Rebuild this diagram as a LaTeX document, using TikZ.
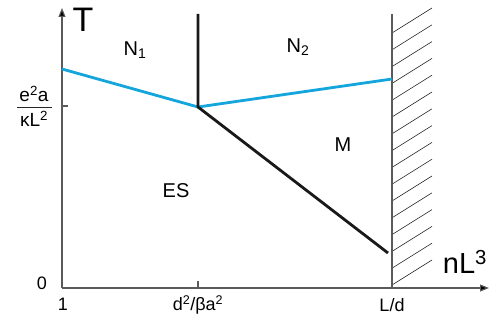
\documentclass[tikz,border=0pt]{standalone}
\usepackage{fontspec}
\setmainfont{Liberation Sans}
\usetikzlibrary{arrows.meta}
\definecolor{phaseblue}{RGB}{20,165,220}
\definecolor{axisgrey}{RGB}{90,90,90}
\begin{document}
\begin{tikzpicture}[x=1pt,y=-1pt,
  axisline/.style={draw=axisgrey,line width=1.1pt},
  axisarrow/.style={axisline,-{Triangle[length=9pt,width=7pt,fill=black]}},
  blueline/.style={draw=phaseblue,line width=2.8pt},
  blackline/.style={draw=black!90,line width=2.8pt},
  hatchline/.style={draw=black!85,line width=0.6pt},
  lbl/.style={inner sep=0pt,font=\fontsize{20}{22}\selectfont},
  ticklbl/.style={inner sep=0pt,font=\fontsize{18}{20}\selectfont}]
\useasboundingbox (0,0) rectangle (494,320);
% coordinates
\coordinate (O) at (62,288);
\coordinate (ytop) at (62,8);
\coordinate (xend) at (489,288);
\coordinate (wtop) at (392,14);
\coordinate (wbot) at (392,288);
\coordinate (bl) at (62,69);
\coordinate (tp) at (198,107);
\coordinate (br) at (392,79);
\coordinate (vtop) at (198,14);
\coordinate (mend) at (388,253);
\coordinate (yt1) at (62,106);
\coordinate (yt2) at (68,106);
\coordinate (xt1) at (198,288);
\coordinate (xt2) at (198,281);
\coordinate (fl) at (17,107);
\coordinate (fr) at (52,107);
% hatching
\foreach \k in {0,...,15} {
  \draw[hatchline] (392,{33+16.8*\k}) -- (432,{8+16.8*\k});
}
% axes
\draw[axisarrow] (O) -- (ytop);
\draw[axisarrow] (O) -- (xend);
\draw[axisline] (wtop) -- (wbot);
\draw[axisline] (yt1) -- (yt2);
\draw[axisline] (xt1) -- (xt2);
% phase boundaries
\draw[blueline] (bl) -- (tp) -- (br);
\draw[blackline] (vtop) -- (tp) -- (mend);
% labels
\node[inner sep=0pt,font=\fontsize{34}{36}\selectfont] (T) at (83,20) {T};
\node[inner sep=0pt,font=\fontsize{29}{31}\selectfont] (nL) at (465,262) {nL\textsuperscript{3}};
\node[lbl] (N1) at (135,50) {N\textsubscript{1}};
\node[lbl] (N2) at (298,47) {N\textsubscript{2}};
\node[lbl] (M) at (343,145) {M};
\node[lbl] (ES) at (176,191) {ES};
\node[ticklbl] (zero) at (42,283) {0};
\node[ticklbl] (one) at (63,304) {1};
\node[ticklbl] (xd) at (198,305) {d\textsuperscript{2}/βa\textsuperscript{2}};
\node[ticklbl] (xL) at (392,305) {L/d};
\draw[black!85,line width=0.8pt] (fl) -- (fr);
\node[ticklbl,font=\fontsize{19}{21}\selectfont] (fnum) at (34,94) {e\textsuperscript{2}a};
\node[ticklbl,font=\fontsize{19}{21}\selectfont] (fden) at (34,119) {κL\textsuperscript{2}};
\end{tikzpicture}
\end{document}
